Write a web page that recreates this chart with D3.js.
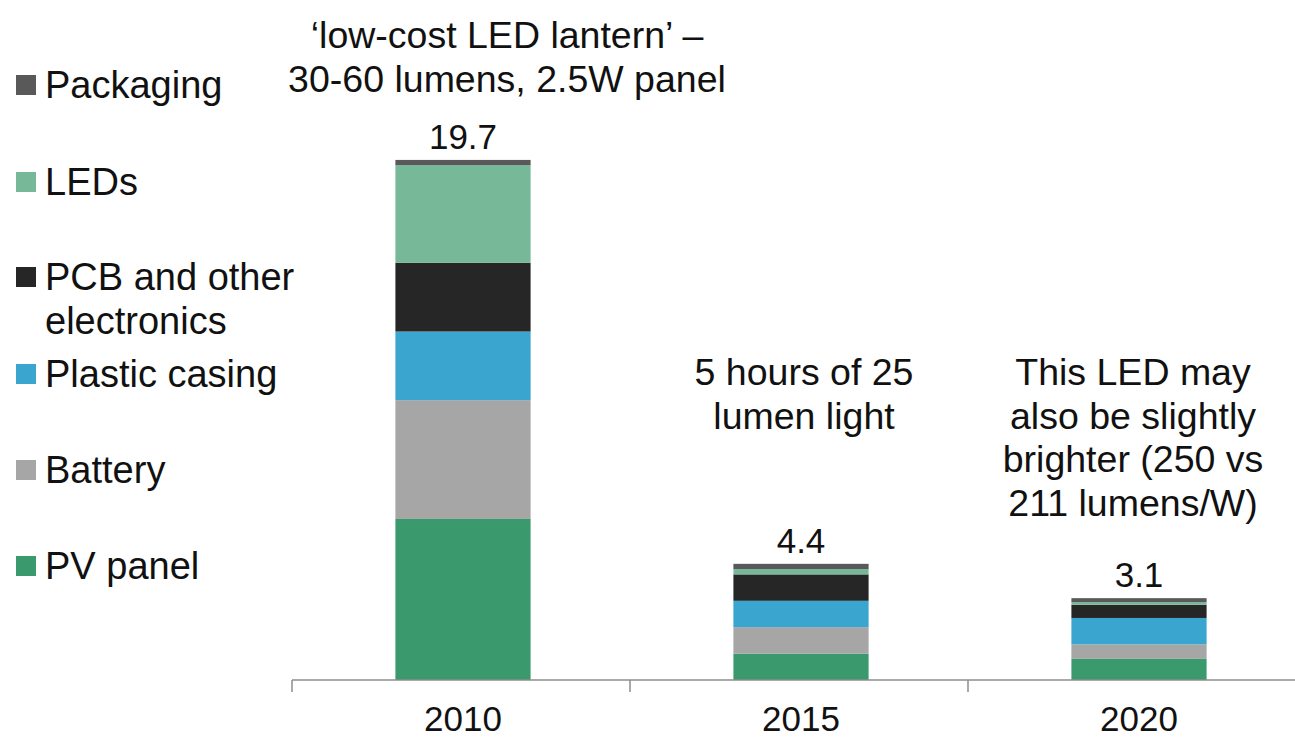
<!DOCTYPE html>
<html>
<head>
<meta charset="utf-8">
<script src="https://cdn.jsdelivr.net/npm/d3@7"></script>
<style>
  body { margin: 0; background: #fff; }
  svg { display: block; font-family: "Liberation Sans", Arial, sans-serif; }
</style>
</head>
<body>
<script>
// data (USD per lantern)
const years = ['2010', '2015', '2020']
const components = ['PV panel', 'Battery', 'Plastic casing', 'PCB and other electronics', 'LEDs', 'Packaging']
const pvPanel = [6.1, 1.0, 0.8]
const battery = [4.5, 1.0, 0.55]
const plasticCasing = [2.6, 1.0, 1.0]
const pcb = [2.6, 1.0, 0.5]
const leds = [3.7, 0.2, 0.1]
const packaging = [0.2, 0.2, 0.15]
const totals = ['19.7', '4.4', '3.1']
const colours = ['#3a9a6e', '#a6a6a6', '#3aa6d0', '#262626', '#77b899', '#595959']

const notes = [
  ['\u2018low-cost LED lantern\u2019 \u2013', '30-60 lumens, 2.5W panel'],
  ['5 hours of 25', 'lumen light'],
  ['This LED may', 'also be slightly', 'brighter (250 vs', '211 lumens/W)'],
]

const W = 1295, H = 741

const rows = years.map((year, i) => ({
  year,
  'PV panel': pvPanel[i],
  'Battery': battery[i],
  'Plastic casing': plasticCasing[i],
  'PCB and other electronics': pcb[i],
  'LEDs': leds[i],
  'Packaging': packaging[i],
}))

const svg = d3.select('body').append('svg')
  .attr('width', W)
  .attr('height', H)

const x = d3.scaleBand()
  .domain(years)
  .range([294, 1308])
  .paddingInner(0.6)
  .paddingOuter(0.3)

const y = d3.scaleLinear()
  .domain([0, 20])
  .range([680, 152])

const stack = d3.stack().keys(components)(rows)

svg.append('g')
  .selectAll('g')
  .data(stack)
  .join('g')
  .attr('fill', (d, i) => colours[i])
  .selectAll('rect')
  .data(d => d)
  .join('rect')
  .attr('x', d => x(d.data.year))
  .attr('width', x.bandwidth())
  .attr('y', d => y(d[1]))
  .attr('height', d => y(d[0]) - y(d[1]))

// category axis, ticks sit between the bars
const axis = svg.append('g').attr('stroke', '#8c8c8c').attr('stroke-width', 1.5)
axis.append('line')
  .attr('x1', 292).attr('x2', W)
  .attr('y1', y(0)).attr('y2', y(0))
axis.selectAll('.tick')
  .data(d3.range(years.length))
  .join('line')
  .attr('x1', i => 292 + i * 338).attr('x2', i => 292 + i * 338)
  .attr('y1', y(0)).attr('y2', y(0) + 12)

svg.append('g')
  .selectAll('text')
  .data(years)
  .join('text')
  .attr('x', d => x(d) + x.bandwidth() / 2)
  .attr('y', 731)
  .attr('text-anchor', 'middle')
  .attr('font-size', 35)
  .attr('fill', '#111')
  .text(d => d)

// totals on top of bars
const sums = rows.map(r => d3.sum(components, k => r[k]))
svg.append('g')
  .selectAll('text')
  .data(years)
  .join('text')
  .attr('x', d => x(d) + x.bandwidth() / 2)
  .attr('y', (d, i) => y(sums[i]) - 11)
  .attr('text-anchor', 'middle')
  .attr('font-size', 35)
  .attr('fill', '#111')
  .text((d, i) => totals[i])

// annotations
const noteX = [507, 804, 1133]
const noteY = [48, 385, 385]
notes.forEach((lines, i) => {
  svg.append('text')
    .attr('text-anchor', 'middle')
    .attr('font-size', 37.5)
    .attr('fill', '#111')
    .selectAll('tspan')
    .data(lines)
    .join('tspan')
    .attr('x', noteX[i])
    .attr('y', (d, j) => noteY[i] + j * 43.5)
    .text(d => d)
})

// legend, top item first
const legendItems = components.slice().reverse()
const legendY = [85, 182, 277, 374, 470, 566]
const legend = svg.append('g')
legendItems.forEach((name, i) => {
  const c = colours[components.indexOf(name)]
  legend.append('rect')
    .attr('x', 16).attr('y', legendY[i] - 10)
    .attr('width', 20).attr('height', 20)
    .attr('fill', c)
  const lines = name === 'PCB and other electronics' ? ['PCB and other', 'electronics'] : [name]
  legend.append('text')
    .attr('font-size', 38)
    .attr('fill', '#111')
    .selectAll('tspan')
    .data(lines)
    .join('tspan')
    .attr('x', 45)
    .attr('y', (d, j) => legendY[i] + 13 + j * 44)
    .text(d => d)
})
</script>
</body>
</html>
